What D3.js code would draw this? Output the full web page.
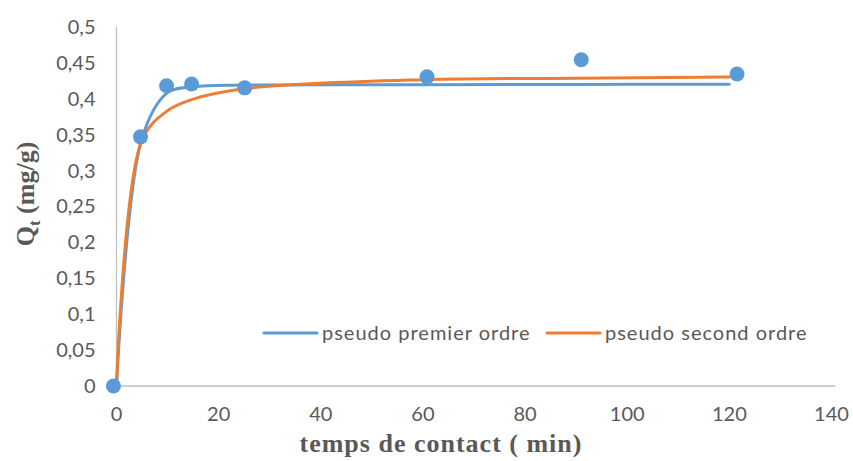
<!DOCTYPE html>
<html>
<head>
<meta charset="utf-8">
<script src="https://cdn.jsdelivr.net/npm/d3@7"></script>
<style>
  body { margin: 0; background: #fff; }
  svg { display: block; }
</style>
</head>
<body>
<svg id="chart"></svg>
<script>
// measured points (time in min, Qt in mg/g)
const timesExp = [-0.6, 4.7, 9.8, 14.7, 25.1, 60.8, 91, 121.5];
const qtExp = [0, 0.3465, 0.4175, 0.42, 0.4147, 0.43, 0.4537, 0.434];

// model curves
const timesModel = [0, 5, 10, 15, 25, 60, 90, 120];
const qtPremier = [0, 0.345, 0.408, 0.416, 0.4185, 0.419, 0.4195, 0.4198];
const qtSecond = [0, 0.342, 0.383, 0.399, 0.4135, 0.426, 0.428, 0.4296];

const seriesNames = ['pseudo premier ordre', 'pseudo second ordre'];
const xTicks = [0, 20, 40, 60, 80, 100, 120, 140];
const yTicks = [0, 0.05, 0.1, 0.15, 0.2, 0.25, 0.3, 0.35, 0.4, 0.45, 0.5];

const width = 853;
const height = 461;
const blue = '#5b9bd5';
const orange = '#ed7d31';
const textGray = '#595959';

const svg = d3.select('#chart')
  .attr('width', width)
  .attr('height', height);

const x = d3.scaleLinear().domain([0, 140]).range([116.5, 831.5]);
const y = d3.scaleLinear().domain([0, 0.5]).range([386, 26.5]);

const fmt = d => String(+d.toFixed(2)).replace('.', ',');

// axis lines
svg.append('line')
  .attr('x1', x(0)).attr('x2', x(140) + 4)
  .attr('y1', y(0)).attr('y2', y(0))
  .attr('stroke', '#bfbfbf').attr('stroke-width', 1.3);
svg.append('line')
  .attr('x1', x(0)).attr('x2', x(0))
  .attr('y1', y(0)).attr('y2', y(0.5))
  .attr('stroke', '#bfbfbf').attr('stroke-width', 1.3);

// tick labels
svg.append('g')
  .selectAll('text')
  .data(yTicks)
  .enter()
  .append('text')
  .attr('x', x(0) - 21)
  .attr('y', d => y(d))
  .attr('dy', '0.36em')
  .attr('text-anchor', 'end')
  .style('font-family', 'Lato, sans-serif')
  .style('font-size', '20px')
  .style('fill', textGray)
  .text(fmt);

svg.append('g')
  .selectAll('text')
  .data(xTicks)
  .enter()
  .append('text')
  .attr('x', d => x(d))
  .attr('y', 414)
  .attr('dy', '0.36em')
  .attr('text-anchor', 'middle')
  .style('font-family', 'Lato, sans-serif')
  .style('font-size', '20px')
  .style('fill', textGray)
  .text(d => d);

// axis titles
svg.append('text')
  .attr('x', 441)
  .attr('y', 452)
  .attr('text-anchor', 'middle')
  .style('font-family', '"Liberation Serif", serif')
  .style('font-weight', 'bold')
  .style('font-size', '26px')
  .style('letter-spacing', '1px')
  .style('fill', textGray)
  .text('temps de contact ( min)');

const yTitle = svg.append('text')
  .attr('transform', 'translate(34, 194) rotate(-90)')
  .attr('text-anchor', 'middle')
  .style('font-family', '"Liberation Serif", serif')
  .style('font-weight', 'bold')
  .style('font-size', '26px')
  .style('fill', textGray);
yTitle.append('tspan').text('Q');
yTitle.append('tspan').attr('dy', 6).style('font-size', '17px').text('t');
yTitle.append('tspan').attr('dy', -6).text(' (mg/g)');

// model lines
const line = d3.line()
  .x(d => x(d[0]))
  .y(d => y(d[1]))
  .curve(d3.curveCatmullRom.alpha(0.5));

const models = [
  { name: seriesNames[0], color: blue, values: d3.zip(timesModel, qtPremier) },
  { name: seriesNames[1], color: orange, values: d3.zip(timesModel, qtSecond) }
];

svg.append('g')
  .selectAll('path')
  .data(models)
  .enter()
  .append('path')
  .attr('d', d => line(d.values))
  .attr('fill', 'none')
  .attr('stroke', d => d.color)
  .attr('stroke-width', 3)
  .attr('stroke-linecap', 'round');

// measured points
svg.append('g')
  .selectAll('circle')
  .data(d3.zip(timesExp, qtExp))
  .enter()
  .append('circle')
  .attr('cx', d => x(d[0]))
  .attr('cy', d => y(d[1]))
  .attr('r', 7.5)
  .attr('fill', blue);

// legend
const legendPos = [264, 547];
const legend = svg.append('g');
legend.selectAll('g')
  .data(models)
  .enter()
  .append('g')
  .attr('transform', (_, i) => `translate(${legendPos[i]}, 333)`)
  .each(function (d) {
    const g = d3.select(this);
    g.append('line')
      .attr('x1', 0).attr('x2', 53)
      .attr('stroke', d.color)
      .attr('stroke-width', 3)
      .attr('stroke-linecap', 'round');
    g.append('text')
      .attr('x', 58)
      .attr('dy', '0.36em')
      .style('font-family', 'Lato, sans-serif')
      .style('font-size', '20px')
      .style('letter-spacing', '1px')
      .style('fill', textGray)
      .text(d.name);
  });
</script>
</body>
</html>
